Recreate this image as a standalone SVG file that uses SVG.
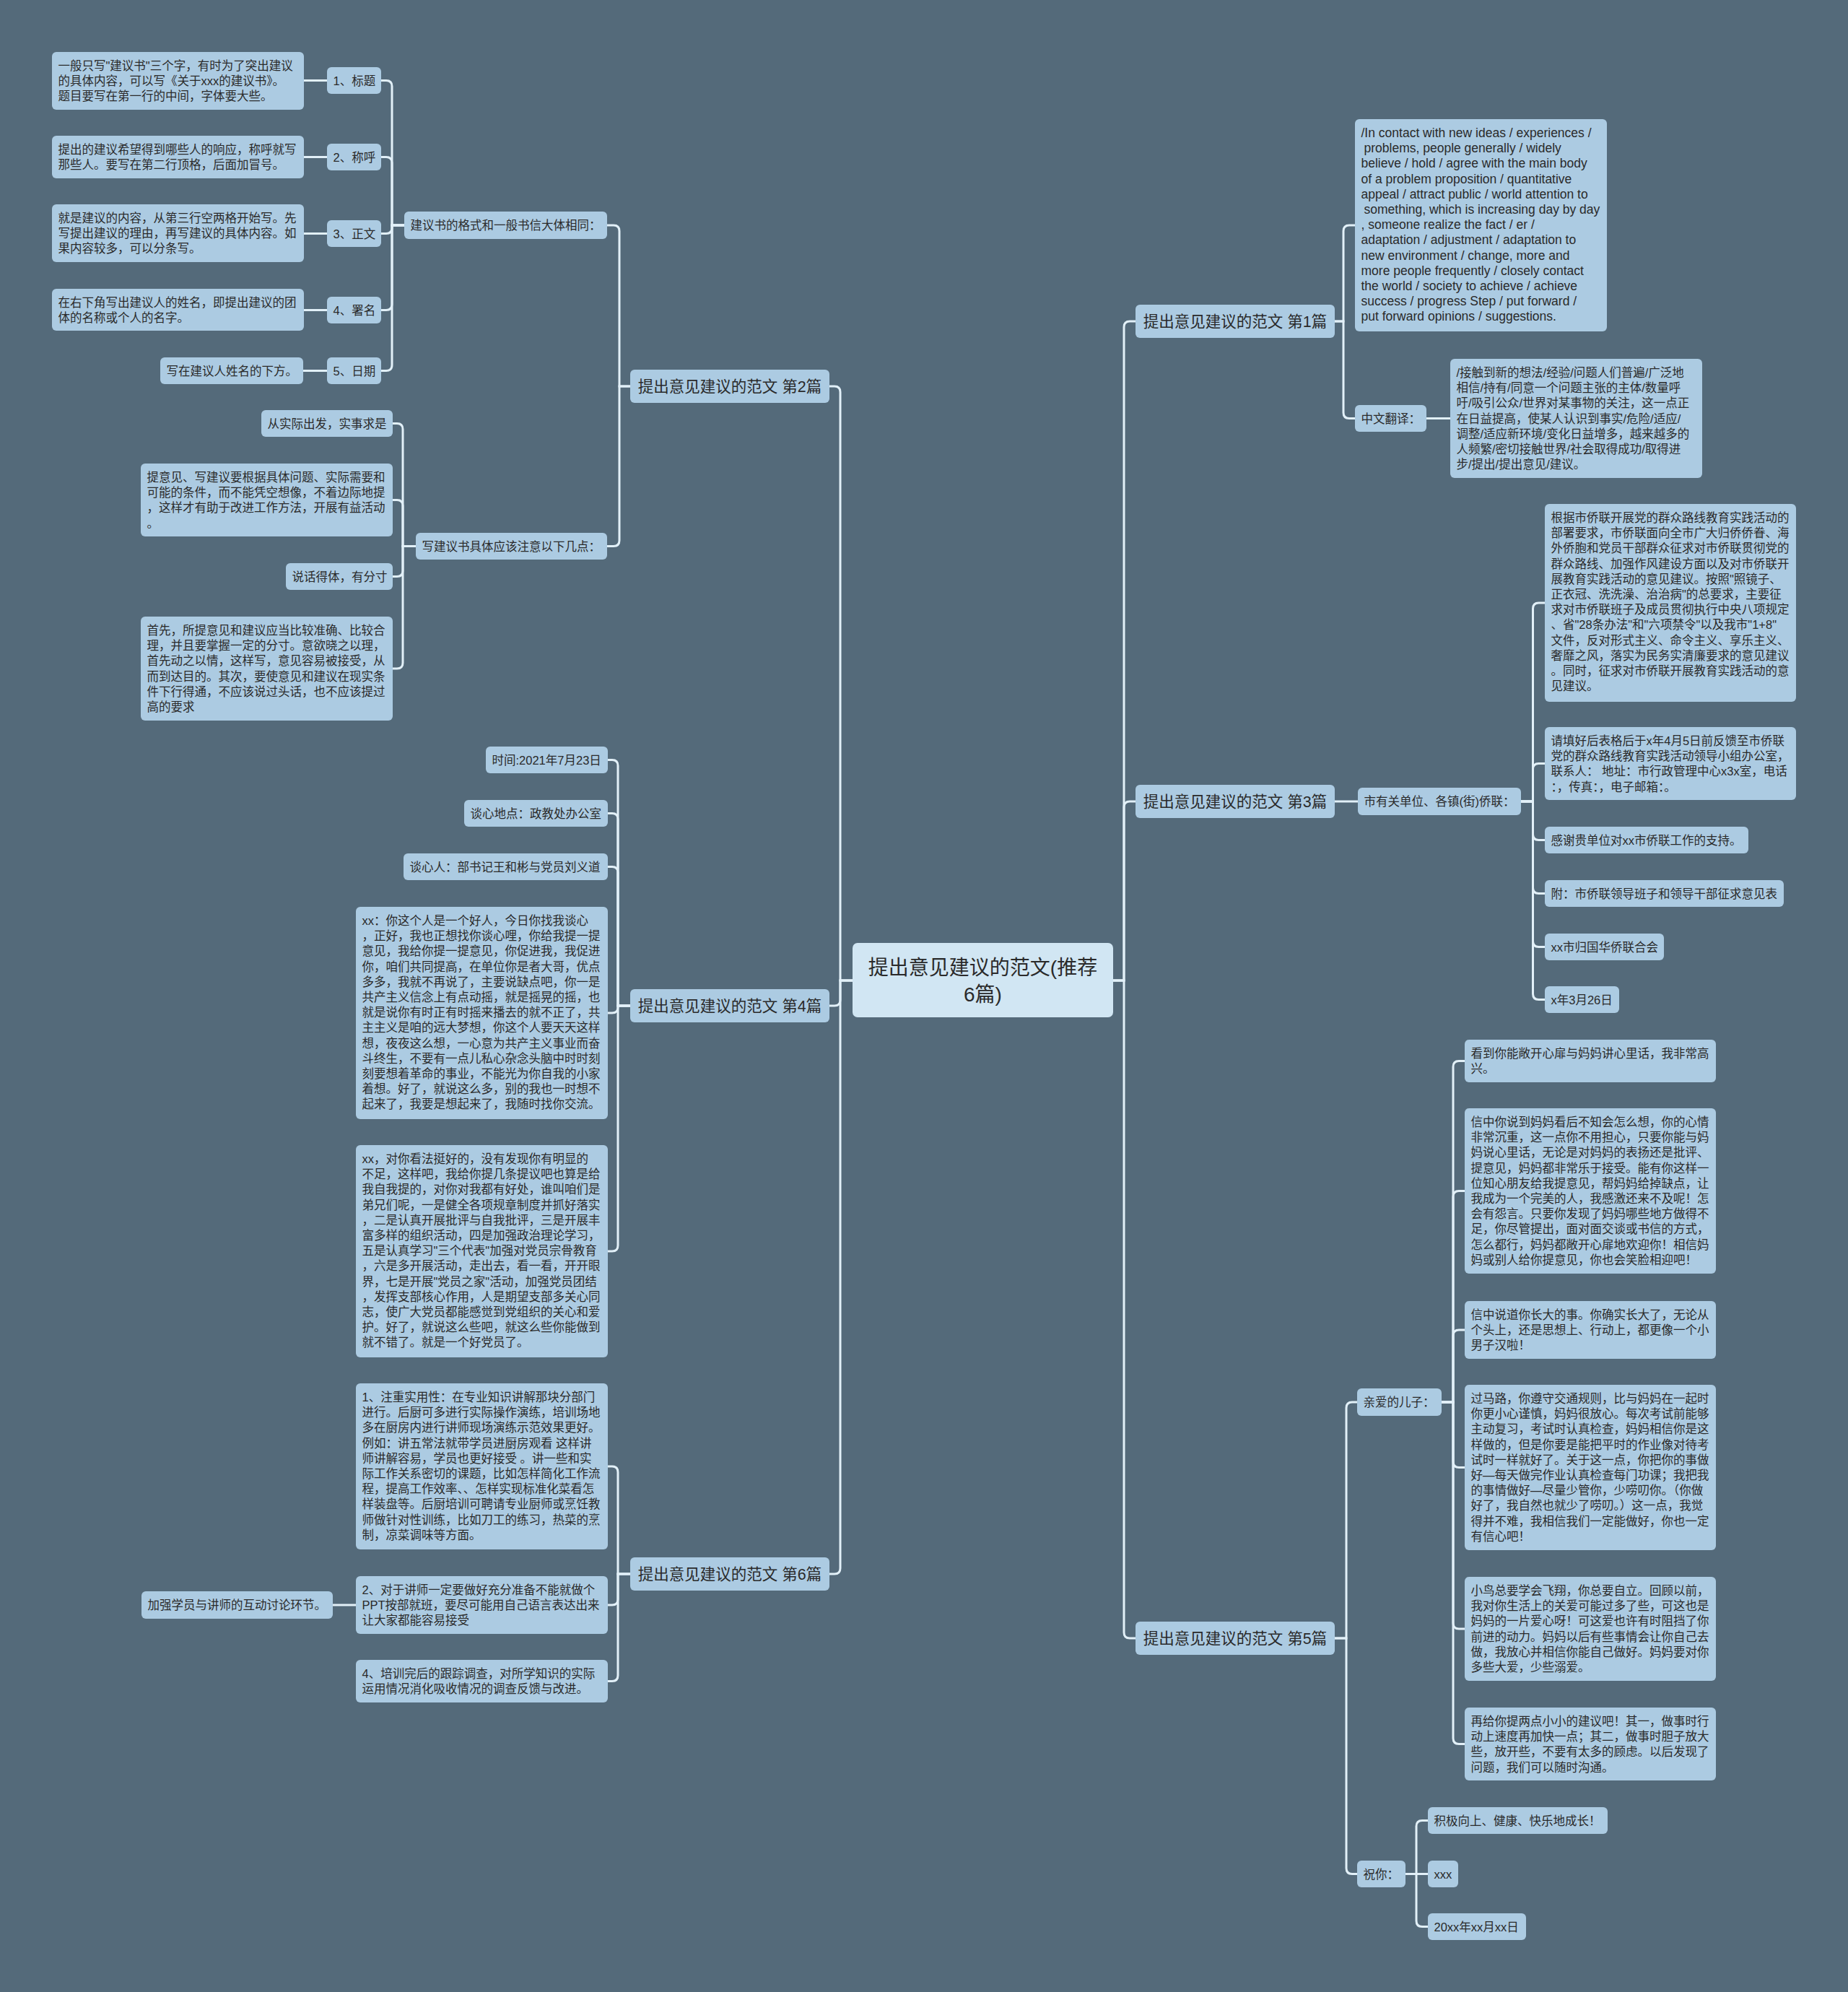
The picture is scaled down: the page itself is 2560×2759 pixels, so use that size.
<svg xmlns="http://www.w3.org/2000/svg" width="2560" height="2759" viewBox="0 0 2560 2759">
<style>
.bx{fill:#accbe2}
.ct{fill:#d1e6f3}
text{font-family:"Liberation Sans","Noto Sans CJK SC",sans-serif;font-size:16.5px;fill:#2a2a2a}
.en{font-size:17.5px}
.l1{font-size:21.5px;text-anchor:middle}
.c{font-size:28px;text-anchor:middle}
.ln{fill:none;stroke:#e2f0f8;stroke-width:3}
</style>
<rect width="2560" height="2759" fill="#546a7a"/>
<g id="connectors" class="ln">
<path d="M1181,1358 H1164 V543 Q1164,535 1156,535 H1149"/>
<path d="M1181,1358 H1164 V1385 Q1164,1393 1156,1393 H1149"/>
<path d="M1181,1358 H1164 V2172 Q1164,2180 1156,2180 H1149"/>
<path d="M1542,1358 H1557 V453 Q1557,445 1565,445 H1573"/>
<path d="M1542,1358 H1557 V1118 Q1557,1110 1565,1110 H1573"/>
<path d="M1542,1358 H1557 V2261 Q1557,2269 1565,2269 H1573"/>
<path d="M873,535 H858 V320 Q858,312 850,312 H841"/>
<path d="M873,535 H858 V748.5 Q858,756.5 850,756.5 H841"/>
<path d="M560,312 H543 V119.5 Q543,111.5 535,111.5 H528"/>
<path d="M560,312 H543 V225.5 Q543,217.5 535,217.5 H528"/>
<path d="M560,312 H543 V315.5 Q543,323.5 535,323.5 H528"/>
<path d="M560,312 H543 V421.5 Q543,429.5 535,429.5 H528"/>
<path d="M560,312 H543 V505.5 Q543,513.5 535,513.5 H528"/>
<path d="M421,111.5 H453"/>
<path d="M421,217.5 H453"/>
<path d="M421,323.5 H453"/>
<path d="M421,429.5 H453"/>
<path d="M420,513.5 H453"/>
<path d="M576,756.5 H558 V594.5 Q558,586.5 550,586.5 H544"/>
<path d="M576,756.5 H558 V700.5 Q558,692.5 550,692.5 H544"/>
<path d="M576,756.5 H558 V790.5 Q558,798.5 550,798.5 H544"/>
<path d="M576,756.5 H558 V918 Q558,926 550,926 H544"/>
<path d="M873,1393 H856 V1060.5 Q856,1052.5 848,1052.5 H842"/>
<path d="M873,1393 H856 V1134.5 Q856,1126.5 848,1126.5 H842"/>
<path d="M873,1393 H856 V1208.5 Q856,1200.5 848,1200.5 H842"/>
<path d="M873,1393 H856 V1395 Q856,1403 848,1403 H842"/>
<path d="M873,1393 H856 V1725 Q856,1733 848,1733 H842"/>
<path d="M873,2180 H856 V2039 Q856,2031 848,2031 H842"/>
<path d="M873,2180 H856 V2215 Q856,2223 848,2223 H842"/>
<path d="M873,2180 H856 V2320.5 Q856,2328.5 848,2328.5 H842"/>
<path d="M493,2223 H461"/>
<path d="M1849,445 H1861 V320 Q1861,312 1869,312 H1877"/>
<path d="M1849,445 H1861 V571.5 Q1861,579.5 1869,579.5 H1877"/>
<path d="M1976,579.5 H2009"/>
<path d="M1849,1110 H1881"/>
<path d="M2107,1110 H2123.5 V843 Q2123.5,835 2131.5,835 H2140"/>
<path d="M2107,1110 H2123.5 V1065.5 Q2123.5,1057.5 2131.5,1057.5 H2140"/>
<path d="M2107,1110 H2123.5 V1155.5 Q2123.5,1163.5 2131.5,1163.5 H2140"/>
<path d="M2107,1110 H2123.5 V1229.5 Q2123.5,1237.5 2131.5,1237.5 H2140"/>
<path d="M2107,1110 H2123.5 V1303.5 Q2123.5,1311.5 2131.5,1311.5 H2140"/>
<path d="M2107,1110 H2123.5 V1376.5 Q2123.5,1384.5 2131.5,1384.5 H2140"/>
<path d="M1849,2269 H1865 V1950 Q1865,1942 1873,1942 H1880"/>
<path d="M1849,2269 H1865 V2587.5 Q1865,2595.5 1873,2595.5 H1880"/>
<path d="M1997,1942 H2013 V1477.5 Q2013,1469.5 2021,1469.5 H2029"/>
<path d="M1997,1942 H2013 V1657.5 Q2013,1649.5 2021,1649.5 H2029"/>
<path d="M1997,1942 H2013 V1850 Q2013,1842 2021,1842 H2029"/>
<path d="M1997,1942 H2013 V2024.5 Q2013,2032.5 2021,2032.5 H2029"/>
<path d="M1997,1942 H2013 V2248 Q2013,2256 2021,2256 H2029"/>
<path d="M1997,1942 H2013 V2407.5 Q2013,2415.5 2021,2415.5 H2029"/>
<path d="M1947,2595.5 H1962 V2529.5 Q1962,2521.5 1970,2521.5 H1978"/>
<path d="M1947,2595.5 H1978"/>
<path d="M1947,2595.5 H1962 V2660.5 Q1962,2668.5 1970,2668.5 H1978"/>
</g>

<g id="root"><rect class="ct" x="1181" y="1306" width="361" height="103" rx="7"/><text class="c" x="1361.5" y="1350">提出意见建议的范文(推荐</text><text class="c" x="1361.5" y="1387">6篇)</text></g>

<g id="p2"><rect class="bx" x="873" y="512" width="276" height="46" rx="6"/><text class="l1" x="1011" y="542.5">提出意见建议的范文 第2篇</text></g>
<g id="p4"><rect class="bx" x="873" y="1370" width="276" height="46" rx="6"/><text class="l1" x="1011" y="1400.5">提出意见建议的范文 第4篇</text></g>
<g id="p6"><rect class="bx" x="873" y="2157" width="276" height="46" rx="6"/><text class="l1" x="1011" y="2187.5">提出意见建议的范文 第6篇</text></g>
<g id="p1"><rect class="bx" x="1573" y="422" width="276" height="46" rx="6"/><text class="l1" x="1711" y="452.5">提出意见建议的范文 第1篇</text></g>
<g id="p3"><rect class="bx" x="1573" y="1087" width="276" height="46" rx="6"/><text class="l1" x="1711" y="1117.5">提出意见建议的范文 第3篇</text></g>
<g id="p5"><rect class="bx" x="1573" y="2246" width="276" height="46" rx="6"/><text class="l1" x="1711" y="2276.5">提出意见建议的范文 第5篇</text></g>

<g id="k1"><rect class="bx" x="560" y="293" width="281" height="38" rx="6"/><text x="568.5" y="318">建议书的格式和一般书信大体相同：</text></g>
<g id="m1"><rect class="bx" x="453" y="93" width="75" height="37" rx="6"/><text x="461.5" y="117.5">1、标题</text></g>
<g id="m2"><rect class="bx" x="453" y="199" width="75" height="37" rx="6"/><text x="461.5" y="223.5">2、称呼</text></g>
<g id="m3"><rect class="bx" x="453" y="305" width="75" height="37" rx="6"/><text x="461.5" y="329.5">3、正文</text></g>
<g id="m4"><rect class="bx" x="453" y="411" width="75" height="37" rx="6"/><text x="461.5" y="435.5">4、署名</text></g>
<g id="m5"><rect class="bx" x="453" y="495" width="75" height="37" rx="6"/><text x="461.5" y="519.5">5、日期</text></g>
<g id="a1"><rect class="bx" x="72" y="72" width="349" height="80" rx="6"/><text x="80.5" y="97">一般只写"建议书"三个字，有时为了突出建议<tspan x="80.5" dy="21.2">的具体内容，可以写《关于xxx的建议书》。</tspan><tspan x="80.5" dy="21.2">题目要写在第一行的中间，字体要大些。</tspan></text></g>
<g id="a2"><rect class="bx" x="72" y="188" width="349" height="59" rx="6"/><text x="80.5" y="213">提出的建议希望得到哪些人的响应，称呼就写<tspan x="80.5" dy="21.2">那些人。要写在第二行顶格，后面加冒号。</tspan></text></g>
<g id="a3"><rect class="bx" x="72" y="283" width="349" height="80" rx="6"/><text x="80.5" y="308">就是建议的内容，从第三行空两格开始写。先<tspan x="80.5" dy="21.2">写提出建议的理由，再写建议的具体内容。如</tspan><tspan x="80.5" dy="21.2">果内容较多，可以分条写。</tspan></text></g>
<g id="a4"><rect class="bx" x="72" y="400" width="349" height="58" rx="6"/><text x="80.5" y="425">在右下角写出建议人的姓名，即提出建议的团<tspan x="80.5" dy="21.2">体的名称或个人的名字。</tspan></text></g>
<g id="a5"><rect class="bx" x="222" y="495" width="198" height="37" rx="6"/><text x="230.5" y="519.5">写在建议人姓名的下方。</text></g>

<g id="k2"><rect class="bx" x="576" y="738" width="265" height="37" rx="6"/><text x="584.5" y="762.5">写建议书具体应该注意以下几点：</text></g>
<g id="b1"><rect class="bx" x="362" y="568" width="182" height="37" rx="6"/><text x="370.5" y="592.5">从实际出发，实事求是</text></g>
<g id="b2"><rect class="bx" x="195" y="642" width="349" height="101" rx="6"/><text x="203.5" y="667">提意见、写建议要根据具体问题、实际需要和<tspan x="203.5" dy="21.2">可能的条件，而不能凭空想像，不着边际地提</tspan><tspan x="203.5" dy="21.2">，这样才有助于改进工作方法，开展有益活动</tspan><tspan x="203.5" dy="21.2">。</tspan></text></g>
<g id="b3"><rect class="bx" x="396" y="780" width="148" height="37" rx="6"/><text x="404.5" y="804.5">说话得体，有分寸</text></g>
<g id="b4"><rect class="bx" x="195" y="854" width="349" height="144" rx="6"/><text x="203.5" y="879">首先，所提意见和建议应当比较准确、比较合<tspan x="203.5" dy="21.2">理，并且要掌握一定的分寸。意欲晓之以理，</tspan><tspan x="203.5" dy="21.2">首先动之以情，这样写，意见容易被接受，从</tspan><tspan x="203.5" dy="21.2">而到达目的。其次，要使意见和建议在现实条</tspan><tspan x="203.5" dy="21.2">件下行得通，不应该说过头话，也不应该提过</tspan><tspan x="203.5" dy="21.2">高的要求</tspan></text></g>

<g id="c1"><rect class="bx" x="673" y="1034" width="169" height="37" rx="6"/><text x="681.5" y="1058.5">时间:2021年7月23日</text></g>
<g id="c2"><rect class="bx" x="643" y="1108" width="199" height="37" rx="6"/><text x="651.5" y="1132.5">谈心地点：政教处办公室</text></g>
<g id="c3"><rect class="bx" x="559" y="1182" width="283" height="37" rx="6"/><text x="567.5" y="1206.5">谈心人：部书记王和彬与党员刘义道</text></g>
<g id="c4"><rect class="bx" x="493" y="1256" width="349" height="294" rx="6"/><text x="501.5" y="1281">xx：你这个人是一个好人，今日你找我谈心<tspan x="501.5" dy="21.2">，正好，我也正想找你谈心哩，你给我提一提</tspan><tspan x="501.5" dy="21.2">意见，我给你提一提意见，你促进我，我促进</tspan><tspan x="501.5" dy="21.2">你，咱们共同提高，在单位你是者大哥，优点</tspan><tspan x="501.5" dy="21.2">多多，我就不再说了，主要说缺点吧，你一是</tspan><tspan x="501.5" dy="21.2">共产主义信念上有点动摇，就是摇晃的摇，也</tspan><tspan x="501.5" dy="21.2">就是说你有时正有时摇来播去的就不正了，共</tspan><tspan x="501.5" dy="21.2">主主义是咱的远大梦想，你这个人要天天这样</tspan><tspan x="501.5" dy="21.2">想，夜夜这么想，一心意为共产主义事业而奋</tspan><tspan x="501.5" dy="21.2">斗终生，不要有一点儿私心杂念头脑中时时刻</tspan><tspan x="501.5" dy="21.2">刻要想着革命的事业，不能光为你自我的小家</tspan><tspan x="501.5" dy="21.2">着想。好了，就说这么多，别的我也一时想不</tspan><tspan x="501.5" dy="21.2">起来了，我要是想起来了，我随时找你交流。</tspan></text></g>
<g id="c5"><rect class="bx" x="493" y="1586" width="349" height="294" rx="6"/><text x="501.5" y="1611">xx，对你看法挺好的，没有发现你有明显的<tspan x="501.5" dy="21.2">不足，这样吧，我给你提几条提议吧也算是给</tspan><tspan x="501.5" dy="21.2">我自我提的，对你对我都有好处，谁叫咱们是</tspan><tspan x="501.5" dy="21.2">弟兄们呢，一是健全各项规章制度并抓好落实</tspan><tspan x="501.5" dy="21.2">，二是认真开展批评与自我批评，三是开展丰</tspan><tspan x="501.5" dy="21.2">富多样的组织活动，四是加强政治理论学习，</tspan><tspan x="501.5" dy="21.2">五是认真学习"三个代表"加强对党员宗骨教育</tspan><tspan x="501.5" dy="21.2">，六是多开展活动，走出去，看一看，开开眼</tspan><tspan x="501.5" dy="21.2">界，七是开展"党员之家"活动，加强党员团结</tspan><tspan x="501.5" dy="21.2">，发挥支部核心作用，人是期望支部多关心同</tspan><tspan x="501.5" dy="21.2">志，使广大党员都能感觉到党组织的关心和爱</tspan><tspan x="501.5" dy="21.2">护。好了，就说这么些吧，就这么些你能做到</tspan><tspan x="501.5" dy="21.2">就不错了。就是一个好党员了。</tspan></text></g>

<g id="d1"><rect class="bx" x="493" y="1916" width="349" height="230" rx="6"/><text x="501.5" y="1941">1、注重实用性：在专业知识讲解那块分部门<tspan x="501.5" dy="21.2">进行。后厨可多进行实际操作演练，培训场地</tspan><tspan x="501.5" dy="21.2">多在厨房内进行讲师现场演练示范效果更好。</tspan><tspan x="501.5" dy="21.2">例如：讲五常法就带学员进厨房观看 这样讲</tspan><tspan x="501.5" dy="21.2">师讲解容易，学员也更好接受 。讲一些和实</tspan><tspan x="501.5" dy="21.2">际工作关系密切的课题，比如怎样简化工作流</tspan><tspan x="501.5" dy="21.2">程，提高工作效率、、怎样实现标准化菜看怎</tspan><tspan x="501.5" dy="21.2">样装盘等。后厨培训可聘请专业厨师或烹饪教</tspan><tspan x="501.5" dy="21.2">师做针对性训练，比如刀工的练习，热菜的烹</tspan><tspan x="501.5" dy="21.2">制，凉菜调味等方面。</tspan></text></g>
<g id="d2"><rect class="bx" x="493" y="2183" width="349" height="80" rx="6"/><text x="501.5" y="2208">2、对于讲师一定要做好充分准备不能就做个<tspan x="501.5" dy="21.2">PPT按部就班，要尽可能用自己语言表达出来</tspan><tspan x="501.5" dy="21.2">让大家都能容易接受</tspan></text></g>
<g id="d3"><rect class="bx" x="196" y="2204" width="265" height="38" rx="6"/><text x="204.5" y="2229">加强学员与讲师的互动讨论环节。</text></g>
<g id="d4"><rect class="bx" x="493" y="2299" width="349" height="59" rx="6"/><text x="501.5" y="2324">4、培训完后的跟踪调查，对所学知识的实际<tspan x="501.5" dy="21.2">运用情况消化吸收情况的调查反馈与改进。</tspan></text></g>

<g id="e1"><rect class="bx" x="1877" y="165" width="349" height="294" rx="6"/><text class="en" x="1885.5" y="190">/In contact with new ideas / experiences /<tspan x="1889.5" dy="21.2">problems, people generally / widely</tspan><tspan x="1885.5" dy="21.2">believe / hold / agree with the main body</tspan><tspan x="1885.5" dy="21.2">of a problem proposition / quantitative</tspan><tspan x="1885.5" dy="21.2">appeal / attract public / world attention to</tspan><tspan x="1889.5" dy="21.2">something, which is increasing day by day</tspan><tspan x="1885.5" dy="21.2">, someone realize the fact / er /</tspan><tspan x="1885.5" dy="21.2">adaptation / adjustment / adaptation to</tspan><tspan x="1885.5" dy="21.2">new environment / change, more and</tspan><tspan x="1885.5" dy="21.2">more people frequently / closely contact</tspan><tspan x="1885.5" dy="21.2">the world / society to achieve / achieve</tspan><tspan x="1885.5" dy="21.2">success / progress Step / put forward /</tspan><tspan x="1885.5" dy="21.2">put forward opinions / suggestions.</tspan></text></g>
<g id="e0"><rect class="bx" x="1877" y="561" width="99" height="37" rx="6"/><text x="1885.5" y="585.5">中文翻译：</text></g>
<g id="e2"><rect class="bx" x="2009" y="497" width="349" height="165" rx="6"/><text x="2017.5" y="522">/接触到新的想法/经验/问题人们普遍/广泛地<tspan x="2017.5" dy="21.2">相信/持有/同意一个问题主张的主体/数量呼</tspan><tspan x="2017.5" dy="21.2">吁/吸引公众/世界对某事物的关注，这一点正</tspan><tspan x="2017.5" dy="21.2">在日益提高，使某人认识到事实/危险/适应/</tspan><tspan x="2017.5" dy="21.2">调整/适应新环境/变化日益增多，越来越多的</tspan><tspan x="2017.5" dy="21.2">人频繁/密切接触世界/社会取得成功/取得进</tspan><tspan x="2017.5" dy="21.2">步/提出/提出意见/建议。</tspan></text></g>

<g id="f0"><rect class="bx" x="1881" y="1091" width="226" height="38" rx="6"/><text x="1889.5" y="1116">市有关单位、各镇(街)侨联：</text></g>
<g id="f1"><rect class="bx" x="2140" y="698" width="348" height="274" rx="6"/><text x="2148.5" y="723">根据市侨联开展党的群众路线教育实践活动的<tspan x="2148.5" dy="21.2">部署要求，市侨联面向全市广大归侨侨眷、海</tspan><tspan x="2148.5" dy="21.2">外侨胞和党员干部群众征求对市侨联贯彻党的</tspan><tspan x="2148.5" dy="21.2">群众路线、加强作风建设方面以及对市侨联开</tspan><tspan x="2148.5" dy="21.2">展教育实践活动的意见建议。按照"照镜子、</tspan><tspan x="2148.5" dy="21.2">正衣冠、洗洗澡、治治病"的总要求，主要征</tspan><tspan x="2148.5" dy="21.2">求对市侨联班子及成员贯彻执行中央八项规定</tspan><tspan x="2148.5" dy="21.2">、省"28条办法"和"六项禁令"以及我市"1+8"</tspan><tspan x="2148.5" dy="21.2">文件，反对形式主义、命令主义、享乐主义、</tspan><tspan x="2148.5" dy="21.2">奢靡之风，落实为民务实清廉要求的意见建议</tspan><tspan x="2148.5" dy="21.2">。同时，征求对市侨联开展教育实践活动的意</tspan><tspan x="2148.5" dy="21.2">见建议。</tspan></text></g>
<g id="f2"><rect class="bx" x="2140" y="1007" width="348" height="101" rx="6"/><text x="2148.5" y="1032">请填好后表格后于x年4月5日前反馈至市侨联<tspan x="2148.5" dy="21.2">党的群众路线教育实践活动领导小组办公室，</tspan><tspan x="2148.5" dy="21.2">联系人：  地址：市行政管理中心x3x室，电话</tspan><tspan x="2148.5" dy="21.2">：，传真：，电子邮箱：。</tspan></text></g>
<g id="f3"><rect class="bx" x="2140" y="1145" width="282" height="37" rx="6"/><text x="2148.5" y="1169.5">感谢贵单位对xx市侨联工作的支持。</text></g>
<g id="f4"><rect class="bx" x="2140" y="1219" width="331" height="37" rx="6"/><text x="2148.5" y="1243.5">附：市侨联领导班子和领导干部征求意见表</text></g>
<g id="f5"><rect class="bx" x="2140" y="1293" width="165" height="37" rx="6"/><text x="2148.5" y="1317.5">xx市归国华侨联合会</text></g>
<g id="f6"><rect class="bx" x="2140" y="1366" width="103" height="37" rx="6"/><text x="2148.5" y="1390.5">x年3月26日</text></g>

<g id="g0"><rect class="bx" x="1880" y="1923" width="117" height="38" rx="6"/><text x="1888.5" y="1948">亲爱的儿子：</text></g>
<g id="g1"><rect class="bx" x="2029" y="1440" width="348" height="59" rx="6"/><text x="2037.5" y="1465">看到你能敞开心扉与妈妈讲心里话，我非常高<tspan x="2037.5" dy="21.2">兴。</tspan></text></g>
<g id="g2"><rect class="bx" x="2029" y="1535" width="348" height="229" rx="6"/><text x="2037.5" y="1560">信中你说到妈妈看后不知会怎么想，你的心情<tspan x="2037.5" dy="21.2">非常沉重，这一点你不用担心，只要你能与妈</tspan><tspan x="2037.5" dy="21.2">妈说心里话，无论是对妈妈的表扬还是批评、</tspan><tspan x="2037.5" dy="21.2">提意见，妈妈都非常乐于接受。能有你这样一</tspan><tspan x="2037.5" dy="21.2">位知心朋友给我提意见，帮妈妈给掉缺点，让</tspan><tspan x="2037.5" dy="21.2">我成为一个完美的人，我感激还来不及呢！怎</tspan><tspan x="2037.5" dy="21.2">会有怨言。只要你发现了妈妈哪些地方做得不</tspan><tspan x="2037.5" dy="21.2">足，你尽管提出，面对面交谈或书信的方式，</tspan><tspan x="2037.5" dy="21.2">怎么都行，妈妈都敞开心扉地欢迎你！相信妈</tspan><tspan x="2037.5" dy="21.2">妈或别人给你提意见，你也会笑脸相迎吧！</tspan></text></g>
<g id="g3"><rect class="bx" x="2029" y="1802" width="348" height="80" rx="6"/><text x="2037.5" y="1827">信中说道你长大的事。你确实长大了，无论从<tspan x="2037.5" dy="21.2">个头上，还是思想上、行动上，都更像一个小</tspan><tspan x="2037.5" dy="21.2">男子汉啦！</tspan></text></g>
<g id="g4"><rect class="bx" x="2029" y="1918" width="348" height="229" rx="6"/><text x="2037.5" y="1943">过马路，你遵守交通规则，比与妈妈在一起时<tspan x="2037.5" dy="21.2">你更小心谨慎，妈妈很放心。每次考试前能够</tspan><tspan x="2037.5" dy="21.2">主动复习，考试时认真检查，妈妈相信你是这</tspan><tspan x="2037.5" dy="21.2">样做的，但是你要是能把平时的作业像对待考</tspan><tspan x="2037.5" dy="21.2">试时一样就好了。关于这一点，你把你的事做</tspan><tspan x="2037.5" dy="21.2">好—每天做完作业认真检查每门功课；我把我</tspan><tspan x="2037.5" dy="21.2">的事情做好—尽量少管你，少唠叨你。（你做</tspan><tspan x="2037.5" dy="21.2">好了，我自然也就少了唠叨。）这一点，我觉</tspan><tspan x="2037.5" dy="21.2">得并不难，我相信我们一定能做好，你也一定</tspan><tspan x="2037.5" dy="21.2">有信心吧！</tspan></text></g>
<g id="g5"><rect class="bx" x="2029" y="2184" width="348" height="144" rx="6"/><text x="2037.5" y="2209">小鸟总要学会飞翔，你总要自立。回顾以前，<tspan x="2037.5" dy="21.2">我对你生活上的关爱可能过多了些，可这也是</tspan><tspan x="2037.5" dy="21.2">妈妈的一片爱心呀！可这爱也许有时阻挡了你</tspan><tspan x="2037.5" dy="21.2">前进的动力。妈妈以后有些事情会让你自己去</tspan><tspan x="2037.5" dy="21.2">做，我放心并相信你能自己做好。妈妈要对你</tspan><tspan x="2037.5" dy="21.2">多些大爱，少些溺爱。</tspan></text></g>
<g id="g6"><rect class="bx" x="2029" y="2365" width="348" height="101" rx="6"/><text x="2037.5" y="2390">再给你提两点小小的建议吧！其一，做事时行<tspan x="2037.5" dy="21.2">动上速度再加快一点；其二，做事时胆子放大</tspan><tspan x="2037.5" dy="21.2">些，放开些，不要有太多的顾虑。以后发现了</tspan><tspan x="2037.5" dy="21.2">问题，我们可以随时沟通。</tspan></text></g>

<g id="h0"><rect class="bx" x="1880" y="2577" width="67" height="37" rx="6"/><text x="1888.5" y="2601.5">祝你：</text></g>
<g id="h1"><rect class="bx" x="1978" y="2503" width="249" height="37" rx="6"/><text x="1986.5" y="2527.5">积极向上、健康、快乐地成长！</text></g>
<g id="h2"><rect class="bx" x="1978" y="2577" width="42" height="37" rx="6"/><text x="1986.5" y="2601.5">xxx</text></g>
<g id="h3"><rect class="bx" x="1978" y="2650" width="136" height="37" rx="6"/><text x="1986.5" y="2674.5">20xx年xx月xx日</text></g>
</svg>
